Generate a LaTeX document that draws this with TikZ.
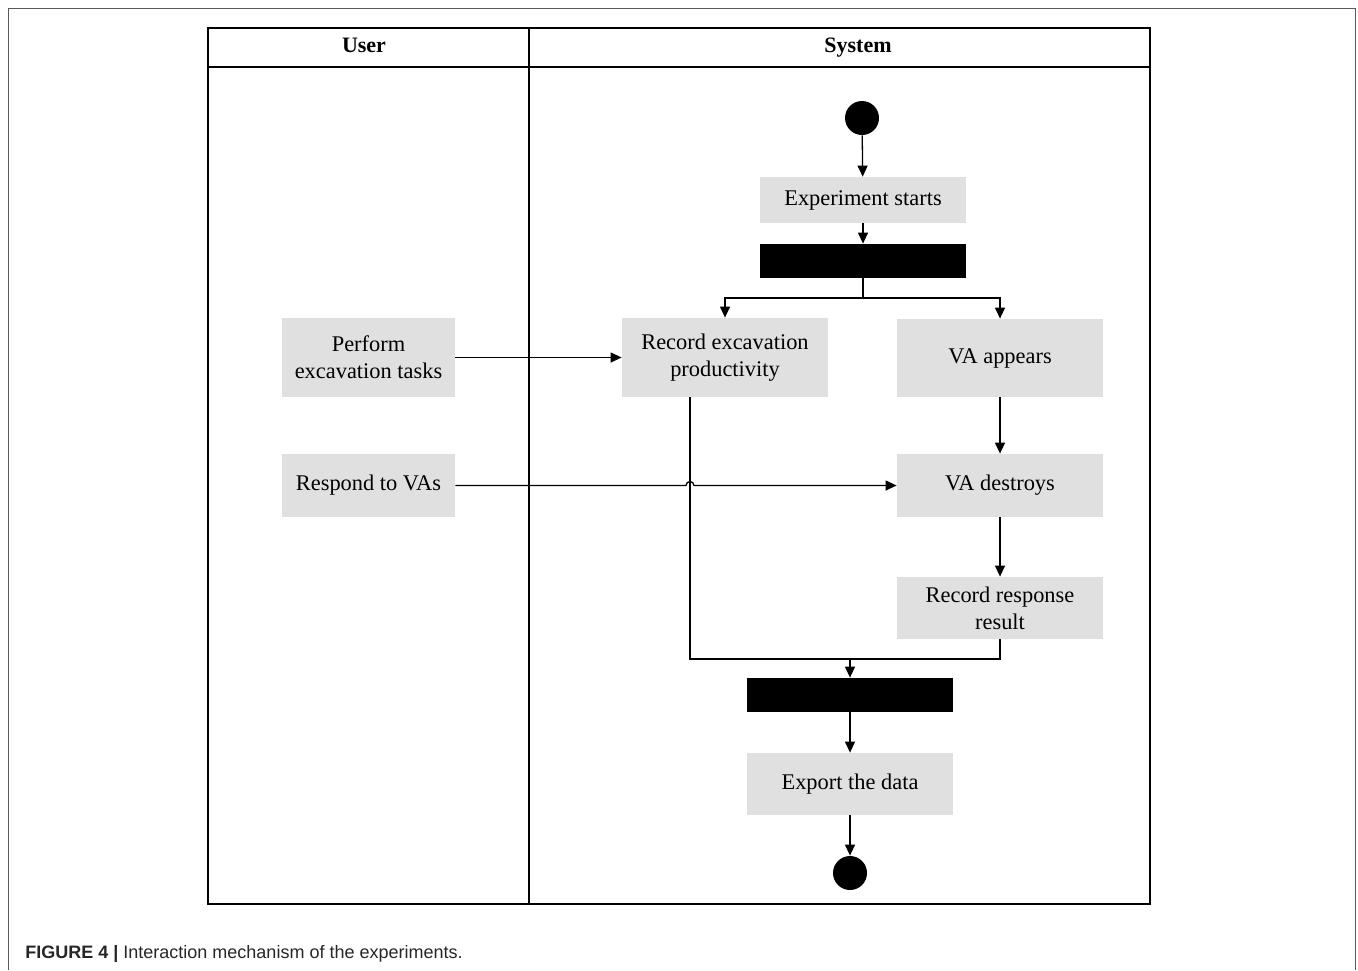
\documentclass[tikz,border=0pt]{standalone}
\usepackage{fontspec}
\setmainfont{Liberation Serif}
\newfontfamily\capfont{Liberation Sans}
\usetikzlibrary{arrows.meta}
\definecolor{boxgray}{HTML}{E0E0E0}
\tikzset{
  act/.style={fill=boxgray, draw=none, inner sep=0pt, align=center,
    font=\fontsize{11.2}{13.6}\selectfont},
  bar/.style={fill=black, draw=none, inner sep=0pt, minimum width=103pt, minimum height=17pt},
  dot/.style={circle, fill=black, draw=none, inner sep=0pt, minimum size=17pt},
  conn/.style={line width=0.65pt, black},
  arr/.style={conn, -{Triangle[length=5.5pt,width=5pt]}},
  lane/.style={line width=0.8pt, black},
  hdr/.style={anchor=base, inner sep=0pt, font=\fontsize{11}{13}\selectfont\bfseries}
}
\begin{document}
\begin{tikzpicture}[x=0.5pt,y=-0.5pt]
\useasboundingbox (0,0) rectangle (1358,970);
% outer frame
\draw[gray!70!black, line width=0.5pt] (8,970) -- (8,8) -- (1355,8) -- (1355,970);
% swimlanes
\draw[lane] (208,28) rectangle (1150,904);
\draw[lane] (208,67) -- (1150,67);
\draw[lane] (529,28) -- (529,904);
\node[hdr] (huser) at (364,52) {User};
\node[hdr] (hsys) at (858,52) {System};
% nodes
\node[dot] (start) at (862,118) {};
\node[act, minimum width=103pt, minimum height=23pt] (exp) at (863,200) {Experiment starts};
\node[bar] (bar1) at (863,261) {};
\node[act, minimum width=103pt, minimum height=39.5pt] (recexc) at (725,357.5) {Record excavation\\productivity};
\node[act, minimum width=103pt, minimum height=39pt] (vaapp) at (1000,358) {VA appears};
\node[act, minimum width=86.5pt, minimum height=39.5pt] (perform) at (368.5,357.5) {Perform\\excavation tasks};
\node[act, minimum width=86.5pt, minimum height=31.5pt] (respond) at (368.5,485.5) {Respond to VAs};
\node[act, minimum width=103pt, minimum height=31.5pt] (vadest) at (1000,485.5) {VA destroys};
\node[act, minimum width=103pt, minimum height=31pt] (recresp) at (1000,608) {Record response\\result};
\node[bar] (bar2) at (850,695) {};
\node[act, minimum width=103pt, minimum height=31pt] (export) at (850,784) {Export the data};
\node[dot] (end) at (850,873) {};
% coordinates
\coordinate (fork) at (863,298);
\coordinate (recexcout) at (690,397);
\coordinate (join) at (850,659);
\coordinate (jump) at (recexcout |- respond.east);
% connectors
\draw[arr] (start) -- (exp);
\draw[arr] (exp) -- (bar1);
\draw[conn] (bar1.south) -- (fork);
\draw[arr] (fork) -| (recexc.north);
\draw[arr] (fork) -| (vaapp.north);
\draw[arr] (perform.east) -- (recexc.west);
\draw[arr] (vaapp) -- (vadest);
\draw[arr] (respond.east) -- ([xshift=-2pt]jump) arc[start angle=180,end angle=0,radius=2pt] -- (vadest.west);
\draw[arr] (vadest) -- (recresp);
\draw[conn] (recexcout) |- (join);
\draw[conn] (recresp.south) |- (join);
\draw[arr] (join) -- (bar2.north);
\draw[arr] (bar2) -- (export);
\draw[arr] (export) -- (end);
% caption
\node[anchor=base west, inner sep=0pt, font=\capfont\fontsize{9}{11}\selectfont, text=black!85] (cap) at (25,958)
  {\textbf{FIGURE 4 |} Interaction mechanism of the experiments.};
\end{tikzpicture}
\end{document}
